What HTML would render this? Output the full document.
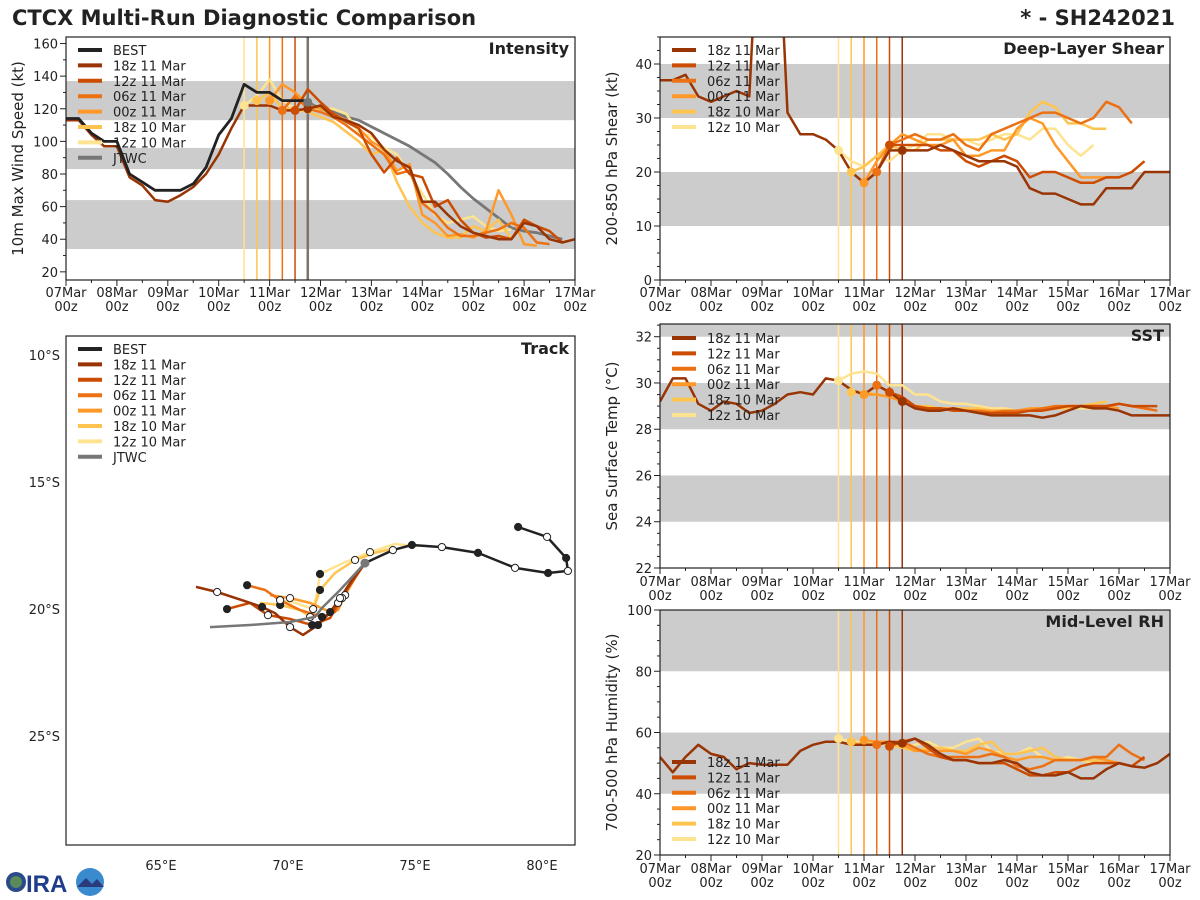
<!DOCTYPE html>
<html><head><meta charset="utf-8"><style>
html,body{margin:0;padding:0;background:#fff;}
svg{display:block;font-family:"DejaVu Sans","Liberation Sans",sans-serif;}
</style></head><body>
<svg id="s" width="1200" height="900" viewBox="0 0 1200 900" xmlns="http://www.w3.org/2000/svg">
<text x="12" y="25" font-size="21" font-weight="bold" fill="#222">CTCX Multi-Run Diagnostic Comparison</text>
<text x="1175" y="25" font-size="21" font-weight="bold" fill="#222" text-anchor="end">* - SH242021</text>
<g>
<circle cx="16" cy="882" r="10" fill="#2a4a8a"/><circle cx="16" cy="882" r="6" fill="#5a8a5a"/>
<text x="26" y="892" font-size="24" font-weight="bold" fill="#1f3d8a" font-family="Liberation Sans, sans-serif">IRA</text>
<circle cx="90" cy="882" r="14" fill="#3a8ad0"/><path d="M77 887 L86 878 L92 884 L97 879 L104 887 Z" fill="#2a3a7a"/>
</g>
</svg>
<script>
// ---------- data ----------
const runNames = ['18z 11 Mar','12z 11 Mar','06z 11 Mar','00z 11 Mar','18z 10 Mar','12z 10 Mar'];
const runColors = ['#993404','#cc4c02','#ec7014','#fe9929','#fec44f','#fee391'];
const runStartHours = [0,108,102,96,90,84]; // hours since 07Mar00z of first value
const runInitHours = [114,108,102,96,90,84];
const dayLabels = ['07Mar','08Mar','09Mar','10Mar','11Mar','12Mar','13Mar','14Mar','15Mar','16Mar','17Mar'];

const bestIntStart = 0;
const bestInt = [114,114,105,100,100,80,75,70,70,70,74,84,104,114,135,130,130,125,125,125];
const jtwcIntStart = 114;
const jtwcInt = [124,120,118,115,113,109,105,101,97,92,87,80,72,65,59,53,47,45,44,42,40];
const int18z11 = [113,113,104,97,97,78,73,64,63,67,72,80,92,108,122,122,122,119,119,120,122,115,113,110,105,95,88,84,63,63,55,48,44,42,40,40,50,48,40,38,40];
const int12z11 = [119,132,124,117,112,108,92,81,90,80,78,60,64,52,44,41,42,40,52,48,45,38];
const int06z11 = [119,128,120,118,115,110,104,98,92,80,82,62,56,47,42,42,44,46,50,47,38,37];
const int00z11 = [125,135,130,122,120,117,113,108,100,95,82,86,55,50,42,43,41,45,70,55,37,36];
const int18z10 = [125,130,120,120,118,115,112,106,100,92,95,75,60,50,44,41,41,48,45,52,40];
const int12z10 = [122,128,138,125,120,118,120,120,117,106,103,96,92,80,68,55,50,52,54,48,45,46];

const shr18z11 = [37,37,38,34,33,34,35,34,80,80,31,27,27,26,24,20,18,20,24,24,24,24,25,24,23,22,22,22,21,17,16,16,15,14,14,17,17,17,20,20,20];
const shr12z11 = [25,25,25,25,24,24,22,21,22,23,22,19,20,20,19,18,18,19,19,20,22];
const shr06z11 = [20,25,26,27,26,26,27,25,24,27,28,29,30,31,31,30,29,30,33,32,29];
const shr00z11 = [18,22,25,27,26,25,25,26,23,23,24,24,28,30,29,25,22,19,19,19,19];
const shr18z10 = [20,21,23,25,24,24,26,26,26,26,26,27,26,27,31,33,32,29,29,28,28];
const shr12z10 = [24,22,21,23,22,24,25,27,27,26,26,25,26,27,27,26,28,28,25,23,25];

const sst18z11 = [29.2,30.2,30.2,29.1,28.8,29.2,29.1,28.7,28.8,29.1,29.5,29.6,29.5,30.2,30.1,29.7,29.5,29.9,29.6,29.2,28.9,28.8,28.8,28.9,28.8,28.7,28.6,28.6,28.6,28.6,28.5,28.6,28.8,29.0,28.9,28.9,28.8,28.6,28.6,28.6,28.6];
const sst12z11 = [29.6,29.4,29.0,28.9,28.9,28.8,28.8,28.7,28.7,28.7,28.7,28.8,28.8,28.9,29.0,29.0,29.0,29.0,29.1,29.0,29.0,29.0];
const sst06z11 = [29.9,29.6,29.3,29.0,28.9,28.9,28.8,28.8,28.8,28.7,28.8,28.8,28.8,28.9,29.0,29.0,29.0,29.0,29.0,29.1,29.0,28.9,28.8];
const sst00z11 = [29.5,29.5,29.4,29.2,29.0,28.9,28.9,28.9,28.8,28.8,28.8,28.8,28.8,28.9,28.9,29.0,29.0,29.0,29.0,29.0,28.9];
const sst18z10 = [29.6,29.6,29.5,29.4,29.2,29.0,29.0,28.9,28.9,28.9,28.9,28.8,28.8,28.8,28.8,28.9,28.9,28.9,29.0,29.1,29.2];
const sst12z10 = [30.1,30.4,30.5,30.4,29.9,29.9,29.5,29.5,29.2,29.1,29.1,29.0,28.9,28.9,28.8,28.8,28.8,28.9,28.9,28.9,28.9];

const rh18z11 = [52,47,52,56,53,52,48,50,49.5,49.5,49.5,54,56,57,57,56,56,56,57,56.5,58,56,53,51,51,50,50,51,50,47,46,46,47,45,45,48,50,49,48.5,50,53];
const rh12z11 = [55.5,57,58,55,52,51,51,50,50,50,48,46,46,47,47,49,50,50,50,49,52];
const rh06z11 = [56,57,57,55,53,52,52,52,52,53,52,49,48,49,51,51,51,52,52,56,53,51];
const rh00z11 = [57.5,57,57,56,54,54,54,54,53,55,54,52,51,52,52,51,51,51,52,51,50];
const rh18z10 = [57,56,57,56,55,54,55,55,54,54,56,57,53,53,54,55,52,51,51,51,50];
const rh12z10 = [58,57,57,57,56,55,56,57,55,55,57,58,54,53,53,55,52,51,52,51,50];

// track (lon E, lat S)
const bestLon = [79.06,80.2,80.95,81.02,80.24,78.94,77.48,76.06,74.88,74.13,73.03];
const bestLat = [16.77,17.16,17.99,18.5,18.58,18.38,17.79,17.56,17.48,17.68,18.19];
const jtwcLon = [73.03,72.05,71.34,71.06,70.08,68.5,66.93];
const jtwcLat = [18.19,19.25,19.96,20.31,20.51,20.63,20.71];
const trk18z11Lon = [73.03,72.52,72.05,71.66,71.18,70.59,70.08,69.49,68.98,68.31,67.21,66.38];
const trk18z11Lat = [18.19,18.86,19.57,20.12,20.63,21.02,20.71,20.16,19.92,19.69,19.33,19.13];
const trk12z11Lon = [73.03,72.44,71.97,71.66,70.95,70.08,69.21,68.5,67.6];
const trk12z11Lat = [18.19,19.06,19.76,20.35,20.63,20.39,20.24,19.76,20.0];
const trk06z11Lon = [73.03,72.52,72.13,71.85,71.34,70.48,69.69,69.1,68.39];
const trk06z11Lat = [18.19,18.86,19.57,20.12,20.31,20.04,19.65,19.25,19.06];
const trk00z11Lon = [73.03,72.64,72.25,71.97,71.66,70.87,70.08,69.29];
const trk00z11Lat = [18.19,18.78,19.45,20.04,20.12,19.76,19.57,19.45];
const trk18z10Lon = [74.21,73.42,72.64,71.85,71.26,71.06,70.87,70.48,69.69,68.9];
const trk18z10Lat = [17.6,17.79,18.07,18.58,19.25,19.84,20.31,20.04,19.84,19.76];
const trk12z10Lon = [75.12,74.21,73.23,72.25,71.26,71.14,70.99,70.28,69.69];
const trk12z10Lat = [17.52,17.44,17.76,18.15,18.62,19.41,20.0,19.76,19.65];

// ---------- drawing ----------
const S = document.getElementById('s');
const NS = 'http://www.w3.org/2000/svg';
function mk(tag, attrs, parent){ const e=document.createElementNS(NS,tag); for(const k in attrs) e.setAttribute(k,attrs[k]); (parent||S).appendChild(e); return e; }

const P1={x0:66,x1:575,y0:37,y1:280,ymin:15,ymax:164};
const P2={x0:660,x1:1170,y0:37,y1:280,ymin:0,ymax:45};
const P4={x0:660,x1:1170,y0:324,y1:568,ymin:22,ymax:32.55};
const P5={x0:660,x1:1170,y0:610,y1:855,ymin:20,ymax:100};
const P3={x0:66,x1:575,y0:336,y1:845,lon0:61.26,lon1:81.3,lat0:9.25,lat1:29.29};

function xS(P,h){ return P.x0 + h/240*(P.x1-P.x0); }
function yS(P,v){ return P.y1 - (v-P.ymin)/(P.ymax-P.ymin)*(P.y1-P.y0); }
function lonS(lon){ return P3.x0 + (lon-P3.lon0)/(P3.lon1-P3.lon0)*(P3.x1-P3.x0); }
function latS(lat){ return P3.y0 + (lat-P3.lat0)/(P3.lat1-P3.lat0)*(P3.y1-P3.y0); }

let clipId=0;
function clipFor(x0,y0,x1,y1){ const id='c'+(clipId++); const cp=mk('clipPath',{id:id}); mk('rect',{x:x0,y:y0,width:x1-x0,height:y1-y0},cp); return 'url(#'+id+')'; }

function timePanel(P, name, title, ytitle, bands, majors, minorStep, xlabY, series, legendY, extra){
  const g=mk('g',{});
  
  
  const clip=clipFor(P.x0,P.y0,P.x1,P.y1);
  const inner=mk('g',{'clip-path':clip},g);
  bands.forEach(b=>{
    const r=mk('rect',{x:P.x0,y:yS(P,Math.min(b[1],P.ymax)),width:P.x1-P.x0,height:yS(P,b[0])-yS(P,Math.min(b[1],P.ymax)),fill:'#cccccc'},inner);
    
    
  });
  runInitHours.forEach((h,i)=>{
    const isLast = (i===0 && extra==='int');
    const l=mk('line',{x1:xS(P,h),x2:xS(P,h),y1:P.y0,y2:P.y1,stroke:isLast?'#7d746e':runColors[i],'stroke-width':isLast?2.5:1.5},inner);
    
    
  });
  for(let i=series.length-1;i>=0;i--){
    const s=series[i];
    const pts=s.vals.map((v,k)=>xS(P,s.start+k*6).toFixed(1)+','+yS(P,v).toFixed(1)).join(' ');
    const pl=mk('polyline',{points:pts,fill:'none',stroke:s.color,'stroke-width':s.w||2.5,'stroke-linejoin':'round'},inner);
    
    
  }
  series.forEach(s=>{
    if(s.dotHour===undefined) return;
    const k=(s.dotHour-s.start)/6;
    const c=mk('circle',{cx:xS(P,s.dotHour),cy:yS(P,s.vals[k]),r:4.5,fill:s.color},inner);
    
    
  });
  mk('rect',{x:P.x0,y:P.y0,width:P.x1-P.x0,height:P.y1-P.y0,fill:'none',stroke:'#222','stroke-width':1.2},g);
  for(let d=0;d<=10;d++){
    const x=xS(P,d*24);
    mk('line',{x1:x,x2:x,y1:P.y1,y2:P.y1+6,stroke:'#222','stroke-width':1},g);
    if(d<10){ const x2=xS(P,d*24+12); mk('line',{x1:x2,x2:x2,y1:P.y1,y2:P.y1+3,stroke:'#222','stroke-width':1},g); }
    const t1=mk('text',{x:x,y:xlabY,'font-size':13,'text-anchor':'middle',fill:'#222'},g); t1.textContent=dayLabels[d];
    
    
    const t2=mk('text',{x:x,y:xlabY+14,'font-size':13,'text-anchor':'middle',fill:'#222'},g); t2.textContent='00z';
    
    
  }
  for(let v=Math.ceil(P.ymin/minorStep)*minorStep; v<=P.ymax+1e-6; v+=minorStep){
    const isMaj = majors.some(m=>Math.abs(m-v)<1e-6);
    mk('line',{x1:P.x0-(isMaj?6:3),x2:P.x0,y1:yS(P,v),y2:yS(P,v),stroke:'#222','stroke-width':1},g);
  }
  majors.forEach(m=>{
    const t=mk('text',{x:P.x0-8,y:yS(P,m)+5,'font-size':13,'text-anchor':'end',fill:'#222'},g); t.textContent=m;
    
    
  });
  const yt=mk('text',{x:0,y:0,'font-size':15,'text-anchor':'middle',fill:'#222',transform:'translate('+(P.x0-43)+','+((P.y0+P.y1)/2)+') rotate(-90)'},g);
  yt.textContent=ytitle;
  
  
  const tt=mk('text',{x:P.x1-6,y:P.y0+17,'font-size':16,'font-weight':'bold','text-anchor':'end',fill:'#222'},g); tt.textContent=title;
  
  
  const entries = legendY.entries;
  entries.forEach((e,i)=>{
    const y=legendY.y+i*15.4;
    const l=mk('line',{x1:P.x0+12,x2:P.x0+36,y1:y,y2:y,stroke:e.color,'stroke-width':4},g);
    
    
    const t=mk('text',{x:P.x0+47,y:y+5,'font-size':13,fill:'#222'},g); t.textContent=e.label;
    
    
  });
}

const runEntries = runNames.map((n,i)=>({label:n,color:runColors[i]}));
function runSeries(arrs){ return arrs.map((a,i)=>({name:'run-'+runNames[i].replace(/ /g,'-').toLowerCase(),vals:a,start:runStartHours[i],color:runColors[i],dotHour:runInitHours[i]})); }

const intSeries = runSeries([int18z11,int12z11,int06z11,int00z11,int18z10,int12z10]);
intSeries.unshift({name:'best',vals:bestInt,start:bestIntStart,color:'#222',w:2.8});
intSeries.push({name:'jtwc',vals:jtwcInt,start:jtwcIntStart,color:'#777',w:2.8,dotHour:jtwcIntStart});
timePanel(P1,'intensity','Intensity','10m Max Wind Speed (kt)',[[34,64],[83,96],[113,137]],[20,40,60,80,100,120,140,160],10,297,intSeries,
  {y:50,entries:[{label:'BEST',color:'#222'}].concat(runEntries,[{label:'JTWC',color:'#777'}])},'int');

timePanel(P2,'shear','Deep-Layer Shear','200-850 hPa Shear (kt)',[[10,20],[30,40]],[0,10,20,30,40],2.5,297,
  runSeries([shr18z11,shr12z11,shr06z11,shr00z11,shr18z10,shr12z10]),{y:50,entries:runEntries});

timePanel(P4,'sst','SST','Sea Surface Temp (°C)',[[24,26],[28,30],[32,33]],[22,24,26,28,30,32],0.5,586,
  runSeries([sst18z11,sst12z11,sst06z11,sst00z11,sst18z10,sst12z10]),{y:338,entries:runEntries});

timePanel(P5,'rh','Mid-Level RH','700-500 hPa Humidity (%)',[[40,60],[80,100]],[20,40,60,80,100],5,873,
  runSeries([rh18z11,rh12z11,rh06z11,rh00z11,rh18z10,rh12z10]),{y:762,entries:runEntries});

(function(){
  const g=mk('g',{});
  
  
  const clip=clipFor(P3.x0,P3.y0,P3.x1,P3.y1);
  const inner=mk('g',{'clip-path':clip},g);
  const tracks=[
    {name:'track-12z10',lon:trk12z10Lon,lat:trk12z10Lat,color:runColors[5]},
    {name:'track-18z10',lon:trk18z10Lon,lat:trk18z10Lat,color:runColors[4]},
    {name:'track-00z11',lon:trk00z11Lon,lat:trk00z11Lat,color:runColors[3]},
    {name:'track-06z11',lon:trk06z11Lon,lat:trk06z11Lat,color:runColors[2]},
    {name:'track-12z11',lon:trk12z11Lon,lat:trk12z11Lat,color:runColors[1]},
    {name:'track-18z11',lon:trk18z11Lon,lat:trk18z11Lat,color:runColors[0]},
    {name:'track-best',lon:bestLon,lat:bestLat,color:'#222'},
  ];
  tracks.forEach(t=>{
    const pts=t.lon.map((lo,k)=>lonS(lo).toFixed(1)+','+latS(t.lat[k]).toFixed(1)).join(' ');
    const pl=mk('polyline',{points:pts,fill:'none',stroke:t.color,'stroke-width':2.5,'stroke-linejoin':'round'},inner);
    
    
  });
  tracks.forEach((t,ti)=>{
    t.lon.forEach((lo,k)=>{
      if(k===0 && t.name!=='track-best') return;
      if(k%2!==0 && t.name!=='track-best') return;
      const open = (t.name==='track-best') ? (k%2===1) : ((k/2)%2===1);
      const c=mk('circle',{cx:lonS(lo),cy:latS(t.lat[k]),r:3.6,fill:open?'#fff':'#222',stroke:'#222','stroke-width':1},inner);
      
      
    });
  });
  const jp=jtwcLon.map((lo,k)=>lonS(lo).toFixed(1)+','+latS(jtwcLat[k]).toFixed(1)).join(' ');
  const jl=mk('polyline',{points:jp,fill:'none',stroke:'#777','stroke-width':2.5},inner);
  
  
  const jd=mk('circle',{cx:lonS(jtwcLon[0]),cy:latS(jtwcLat[0]),r:4.5,fill:'#777'},inner);
  
  
  mk('rect',{x:P3.x0,y:P3.y0,width:P3.x1-P3.x0,height:P3.y1-P3.y0,fill:'none',stroke:'#222','stroke-width':1.2},g);
  [65,70,75,80].forEach(lo=>{
    const t=mk('text',{x:lonS(lo),y:870,'font-size':13,'text-anchor':'middle',fill:'#222'},g); t.textContent=lo+'°E';
    
    
  });
  [10,15,20,25].forEach(la=>{
    const t=mk('text',{x:P3.x0-6,y:latS(la)+5,'font-size':13,'text-anchor':'end',fill:'#222'},g); t.textContent=la+'°S';
    
    
  });
  const tt=mk('text',{x:P3.x1-6,y:P3.y0+18,'font-size':16,'font-weight':'bold','text-anchor':'end',fill:'#222'},g); tt.textContent='Track';
  
  
  const ents=[{label:'BEST',color:'#222'}].concat(runEntries,[{label:'JTWC',color:'#777'}]);
  ents.forEach((e,i)=>{
    const y=349+i*15.4;
    const l=mk('line',{x1:P3.x0+12,x2:P3.x0+36,y1:y,y2:y,stroke:e.color,'stroke-width':4},g);
    
    
    const t=mk('text',{x:P3.x0+47,y:y+5,'font-size':13,fill:'#222'},g); t.textContent=e.label;
    
    
  });
})();
</script>
</body></html>
